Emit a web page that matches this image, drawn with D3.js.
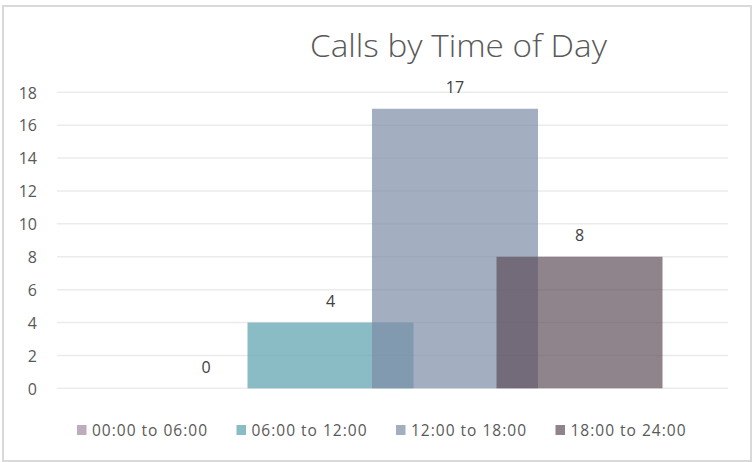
<!DOCTYPE html>
<html>
<head>
<meta charset="utf-8">
<script src="https://cdn.jsdelivr.net/npm/d3@7"></script>
<style>
  html, body { margin: 0; padding: 0; background: #fff; }
  svg { display: block; }
  text { font-family: "Open Sans", sans-serif; }
</style>
</head>
<body>
<svg id="chart" width="752" height="462"></svg>
<script>
const title = "Calls by Time of Day";
const seriesNames = ["00:00 to 06:00", "06:00 to 12:00", "12:00 to 18:00", "18:00 to 24:00"];
const seriesValues = [0, 4, 17, 8];
const seriesColors = ["#9e8aa1", "#589fac", "#7d8ba7", "#5f4e5b"];
const yTicks = [0, 2, 4, 6, 8, 10, 12, 14, 16, 18];

const svg = d3.select("#chart");

// frame
svg.append("rect")
  .attr("x", 3).attr("y", 6).attr("width", 748).attr("height", 455)
  .attr("fill", "#fff").attr("stroke", "#d9d9d9").attr("stroke-width", 2);

const plotLeft = 57, plotRight = 728;
const y = d3.scaleLinear().domain([0, 18]).range([388.3, 92.3]);
const x = d3.scaleBand().domain(seriesNames).range([143.75, 641.75]).paddingInner(0).paddingOuter(0);
const barW = x.bandwidth() * 4 / 3;

// gridlines
svg.append("g").selectAll("line").data(yTicks).join("line")
  .attr("x1", plotLeft).attr("x2", plotRight)
  .attr("y1", d => y(d)).attr("y2", d => y(d))
  .attr("stroke", "#ebebeb").attr("stroke-width", 1.5);

// y axis labels via d3 axis
const yAxis = d3.axisLeft(y).tickValues(yTicks).tickSize(0).tickPadding(0);
const gy = svg.append("g").attr("transform", "translate(37,0)").call(yAxis);
gy.select(".domain").remove();
gy.selectAll("text")
  .attr("font-family", "'Open Sans', sans-serif")
  .attr("font-size", 16).attr("fill", "#595959").attr("dy", "0.36em");

// bars
svg.append("g").selectAll("rect").data(seriesNames).join("rect")
  .attr("x", d => x(d) + x.bandwidth() / 2 - barW / 2)
  .attr("width", barW)
  .attr("y", (d, i) => y(seriesValues[i]))
  .attr("height", (d, i) => y(0) - y(seriesValues[i]))
  .attr("fill", (d, i) => seriesColors[i])
  .attr("fill-opacity", 0.7);

// data labels
svg.append("g").selectAll("text").data(seriesNames).join("text")
  .attr("x", d => x(d) + x.bandwidth() / 2)
  .attr("y", (d, i) => y(seriesValues[i]) - 15.5)
  .attr("text-anchor", "middle")
  .attr("font-size", 16).attr("fill", "#404040")
  .text((d, i) => seriesValues[i]);

// title
svg.append("text")
  .attr("x", 310).attr("y", 57)
  .attr("font-size", 31).attr("font-weight", 300).attr("fill", "#595959")
  .attr("textLength", 297).attr("lengthAdjust", "spacingAndGlyphs")
  .text(title);

// legend
const legendX = [77, 236.5, 396, 555.5];
const lg = svg.append("g").selectAll("g").data(seriesNames).join("g")
  .attr("transform", (d, i) => `translate(${legendX[i]},0)`);
lg.append("rect")
  .attr("x", 0).attr("y", 425).attr("width", 9.5).attr("height", 10)
  .attr("fill", (d, i) => seriesColors[i]).attr("fill-opacity", 0.7);
lg.append("text")
  .attr("x", 15).attr("y", 435.5)
  .attr("font-size", 15.5).attr("fill", "#595959")
  .attr("textLength", 115).attr("lengthAdjust", "spacing")
  .text(d => d);
</script>
</body>
</html>
